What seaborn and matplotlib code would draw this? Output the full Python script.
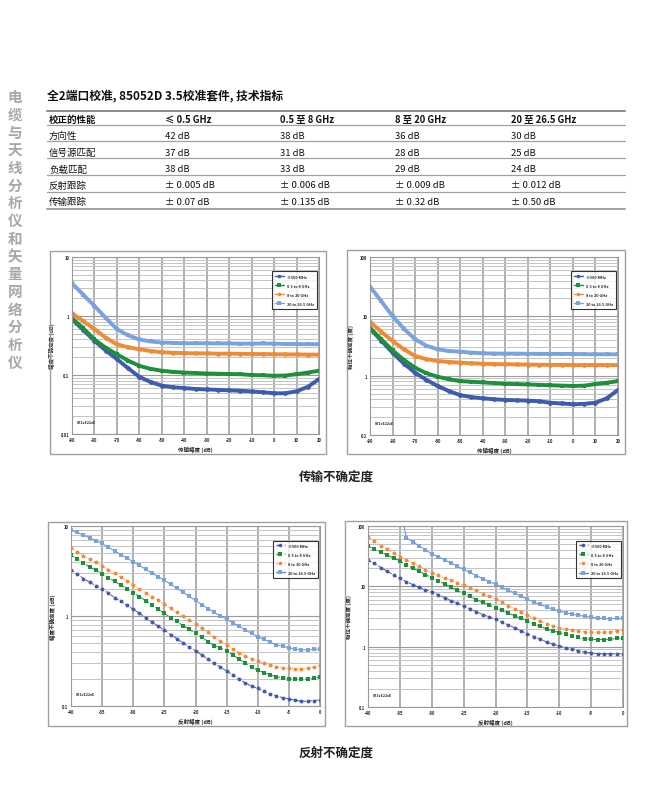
import numpy as np
import pandas as pd
import matplotlib
matplotlib.use("Agg")
import matplotlib.pyplot as plt
from matplotlib.patches import Rectangle
from matplotlib.ticker import FixedLocator, NullFormatter, LogLocator
import seaborn as sns

sns.set_theme(style="white")
plt.rcParams['font.family'] = ['Noto Sans CJK SC', 'DejaVu Sans']

# ---- table data ----
title = "全2端口校准, 85052D 3.5校准套件, 技术指标"
side_text = "电缆与天线分析仪和矢量网络分析仪"
table_header = ["校正的性能", "≤ 0.5 GHz", "0.5 至 8 GHz", "8 至 20 GHz", "20 至 26.5 GHz"]
row_names = ["方向性", "信号源匹配", "负载匹配", "反射跟踪", "传输跟踪"]
col_05 = ["42 dB", "37 dB", "38 dB", "± 0.005 dB", "± 0.07 dB"]
col_8 = ["38 dB", "31 dB", "33 dB", "± 0.006 dB", "± 0.135 dB"]
col_20 = ["36 dB", "28 dB", "29 dB", "± 0.009 dB", "± 0.32 dB"]
col_265 = ["30 dB", "25 dB", "24 dB", "± 0.012 dB", "± 0.50 dB"]

series_names = ["≤500 MHz", "0.5 to 8 GHz", "8 to 20 GHz", "20 to 26.5 GHz"]

# ---- transmission charts, x = -90..20 dB step 5 ----
trans_x = list(range(-90, 21, 5))
trans_mag_500 = [0.88, 0.58, 0.38, 0.26, 0.186, 0.13, 0.093, 0.076, 0.066, 0.062, 0.060, 0.058,
                 0.057, 0.056, 0.055, 0.054, 0.0526, 0.051, 0.049, 0.049, 0.053, 0.063, 0.085]
trans_mag_8 = [0.92, 0.62, 0.40, 0.29, 0.225, 0.175, 0.143, 0.127, 0.118, 0.113, 0.11, 0.108,
               0.106, 0.105, 0.104, 0.103, 0.100, 0.099, 0.097, 0.098, 0.103, 0.11, 0.118]
trans_mag_20 = [1.11, 0.82, 0.60, 0.43, 0.33, 0.295, 0.274, 0.255, 0.243, 0.238, 0.235, 0.233,
                0.232, 0.23, 0.23, 0.228, 0.227, 0.226, 0.225, 0.224, 0.223, 0.222, 0.222]
trans_mag_265 = [3.58, 2.3, 1.48, 0.93, 0.60, 0.47, 0.40, 0.37, 0.355, 0.35, 0.345, 0.345,
                 0.345, 0.343, 0.343, 0.34, 0.34, 0.342, 0.34, 0.335, 0.335, 0.333, 0.333]

trans_ph_500 = [6.2, 3.9, 2.44, 1.6, 1.12, 0.85, 0.67, 0.55, 0.47, 0.435, 0.415, 0.40,
                0.39, 0.385, 0.38, 0.37, 0.35, 0.34, 0.33, 0.335, 0.35, 0.415, 0.575]
trans_ph_8 = [6.4, 4.1, 2.67, 1.85, 1.36, 1.1, 0.96, 0.87, 0.81, 0.79, 0.77, 0.75,
              0.73, 0.72, 0.71, 0.70, 0.69, 0.68, 0.67, 0.68, 0.72, 0.76, 0.81]
trans_ph_20 = [8.1, 5.5, 3.84, 2.8, 2.14, 1.9, 1.77, 1.7, 1.66, 1.62, 1.59, 1.57,
               1.56, 1.55, 1.54, 1.53, 1.52, 1.52, 1.51, 1.51, 1.51, 1.51, 1.51]
trans_ph_265 = [31.6, 18, 10.1, 6.2, 4.1, 3.2, 2.78, 2.6, 2.54, 2.45, 2.38, 2.36,
                2.35, 2.35, 2.34, 2.33, 2.33, 2.33, 2.32, 2.3, 2.3, 2.29, 2.29]

# ---- reflection charts, x = -40..0 dB step 1 ----
refl_x = list(range(-40, 1))
refl_mag_500 = [3.24, 2.95, 2.6, 2.37, 2.17, 2.0, 1.8, 1.6, 1.45, 1.31, 1.19, 1.07, 0.95, 0.86,
                0.77, 0.70, 0.62, 0.56, 0.50, 0.45, 0.41, 0.37, 0.33, 0.30, 0.27, 0.245, 0.22,
                0.20, 0.18, 0.167, 0.157, 0.145, 0.136, 0.129, 0.124, 0.12, 0.116, 0.113,
                0.113, 0.115, 0.117]
refl_mag_8 = [4.72, 4.3, 3.88, 3.5, 3.22, 2.95, 2.67, 2.42, 2.2, 2.0, 1.82, 1.64, 1.48, 1.33,
              1.2, 1.07, 0.96, 0.87, 0.78, 0.71, 0.64, 0.58, 0.52, 0.47, 0.44, 0.41, 0.37,
              0.33, 0.30, 0.27, 0.249, 0.235, 0.222, 0.212, 0.205, 0.201, 0.199, 0.198,
              0.20, 0.204, 0.21]
refl_mag_20 = [5.65, 5.15, 4.7, 4.3, 3.95, 3.6, 3.27, 2.97, 2.7, 2.44, 2.21, 2.0, 1.8, 1.64,
               1.49, 1.35, 1.22, 1.1, 0.99, 0.90, 0.81, 0.73, 0.66, 0.59, 0.53, 0.48, 0.43,
               0.39, 0.36, 0.335, 0.316, 0.30, 0.285, 0.274, 0.266, 0.262, 0.259, 0.259,
               0.264, 0.272, 0.283]
refl_mag_265 = [9.0, 8.5, 7.9, 7.4, 6.9, 6.4, 5.8, 5.3, 4.8, 4.4, 4.0, 3.65, 3.3, 3.0, 2.73,
                2.49, 2.25, 2.03, 1.83, 1.65, 1.49, 1.34, 1.21, 1.1, 1.0, 0.92, 0.84, 0.77,
                0.70, 0.64, 0.59, 0.55, 0.51, 0.48, 0.46, 0.445, 0.43, 0.42, 0.42, 0.425, 0.43]

refl_ph_500 = [27, 24, 20.5, 17.8, 15.5, 13.6, 12, 10.7, 9.6, 8.8, 8.05, 7.3, 6.5, 5.8, 5.2,
               4.72, 4.25, 3.8, 3.4, 3.1, 2.84, 2.55, 2.3, 2.05, 1.83, 1.64, 1.47, 1.33, 1.2,
               1.1, 1.03, 0.96, 0.90, 0.85, 0.81, 0.79, 0.77, 0.76, 0.76, 0.765, 0.77]
refl_ph_8 = [46.7, 41, 37, 33, 29.5, 26.3, 23, 20, 17.7, 15.7, 13.9, 12.4, 11, 9.7, 8.6, 7.66,
             6.8, 6.0, 5.4, 4.9, 4.43, 4.0, 3.6, 3.25, 2.93, 2.66, 2.4, 2.17, 1.98, 1.83, 1.71,
             1.6, 1.5, 1.42, 1.36, 1.32, 1.31, 1.31, 1.33, 1.37, 1.41]
refl_ph_20 = [65.8, 56, 47, 41, 35.5, 31, 27.5, 24.5, 21.5, 19, 16.9, 15.2, 13.8, 12.5, 11.4,
              10.5, 9.5, 8.6, 7.6, 6.8, 6.1, 5.4, 4.8, 4.2, 3.7, 3.3, 2.95, 2.65, 2.4, 2.2,
              2.07, 1.97, 1.88, 1.81, 1.77, 1.75, 1.74, 1.74, 1.77, 1.82, 1.89]
refl_ph_265 = [np.nan, np.nan, np.nan, np.nan, np.nan, 250, 64, 55, 47, 40, 34.8, 31, 27.5,
               24.3, 21.5, 19.1, 17, 15.1, 13.4, 12, 10.8, 9.7, 8.6, 7.7, 6.8, 6.1, 5.5, 5.0,
               4.55, 4.2, 3.9, 3.65, 3.45, 3.3, 3.18, 3.1, 3.0, 2.93, 2.9, 2.93, 2.98]

# line colour, marker colour, marker, linestyle
styles = [("#7a3fa8", "#3d5cad", "o", (0, (4, 2))),
          ("#1e8f3c", "#1e8f3c", "s", (0, (4, 2))),
          ("#e8862e", "#ef8a35", "o", (0, (1, 2))),
          ("#5b8fd6", "#79a3dd", "s", "-")]

W, H = 653, 804
fig = plt.figure(figsize=(W / 100, H / 100), dpi=100)


def fx(px):
    return px / W


def fy(py):
    return 1 - py / H


def make_chart(box, plot, x, ys, xticks, ylim, yticks, ylabel, xlabel, dense):
    bx0, by0, bx1, by1 = box
    fig.patches.append(Rectangle((fx(bx0), fy(by1)), fx(bx1 - bx0), (by1 - by0) / H,
                                 transform=fig.transFigure, fill=False,
                                 edgecolor="#a0a0a0", linewidth=1.0))
    px0, py0, px1, py1 = plot
    ax = fig.add_axes([fx(px0), fy(py1), fx(px1 - px0), (py1 - py0) / H])
    for (lc, mc, mk, ls), y, name in zip(styles, ys, series_names):
        df = pd.DataFrame({"x": x, "y": y}).dropna()
        if dense:
            sns.lineplot(data=df, x="x", y="y", ax=ax, color=mc, linewidth=2.8,
                         marker=mk, markersize=3.4, markeredgewidth=0, label=name,
                         sort=False)
        else:
            sns.lineplot(data=df, x="x", y="y", ax=ax, color=lc, linewidth=0.7,
                         linestyle=ls, marker=mk, markersize=2.8, markerfacecolor=mc,
                         markeredgewidth=0, label=name, sort=False)
    ax.set_yscale("log")
    ax.set_xlim(xticks[0], xticks[-1])
    ax.set_ylim(*ylim)
    ax.set_xticks(xticks)
    ax.set_xticklabels([str(t) for t in xticks], fontsize=3, fontweight="bold")
    ax.yaxis.set_major_locator(FixedLocator(yticks))
    ax.set_yticklabels([("%g" % t) for t in yticks], fontsize=3, fontweight="bold")
    ax.yaxis.set_minor_locator(LogLocator(base=10, subs=np.arange(2, 10)))
    ax.yaxis.set_minor_formatter(NullFormatter())
    ax.tick_params(axis="both", which="both", length=0, pad=2)
    ax.grid(True, axis="x", which="major", color="#9a9a9a", linewidth=1.1)
    ax.grid(True, axis="y", which="major", color="#9a9a9a", linewidth=0.8)
    ax.grid(True, axis="y", which="minor", color="#c4c4c4", linewidth=0.7)
    ax.set_axisbelow(True)
    for s in ax.spines.values():
        s.set_color("#9a9a9a")
        s.set_linewidth(0.8)
    ax.set_xlabel(xlabel, fontsize=4, fontweight="bold", labelpad=3)
    ax.set_ylabel(ylabel, fontsize=4, fontweight="bold", labelpad=4)
    ax.text(0.02, 0.06, "871xE22xE", transform=ax.transAxes, fontsize=2.6,
            fontweight="bold", color="#222222")
    leg = ax.legend(loc="upper right", bbox_to_anchor=(1.0, 0.93),
                    frameon=True, fancybox=False, handlelength=2.2, borderpad=0.8,
                    labelspacing=1.3, prop={"weight": "bold", "size": 2.8})
    leg.get_frame().set_edgecolor("black")
    leg.get_frame().set_linewidth(0.8)
    for h in leg.legend_handles:
        h.set_linewidth(1.0)
        h.set_markersize(2.6)
    return ax


make_chart((50, 252, 326, 455), (72, 258, 319, 435), trans_x,
           [trans_mag_500, trans_mag_8, trans_mag_20, trans_mag_265],
           list(range(-90, 21, 10)), (0.01, 10), [0.01, 0.1, 1, 10],
           "幅度不确定度 (dB)", "传输幅度 (dB)", True)
make_chart((347, 251, 625, 455), (370, 258, 618, 436), trans_x,
           [trans_ph_500, trans_ph_8, trans_ph_20, trans_ph_265],
           list(range(-90, 21, 10)), (0.1, 100), [0.1, 1, 10, 100],
           "相位不确定度 (度)", "传输幅度 (dB)", True)
make_chart((48, 523, 325, 727), (71, 527, 320, 707), refl_x,
           [refl_mag_500, refl_mag_8, refl_mag_20, refl_mag_265],
           list(range(-40, 1, 5)), (0.1, 10), [0.1, 1, 10],
           "幅度不确定度 (dB)", "反射幅度 (dB)", False)
make_chart((345, 522, 627, 727), (368, 527, 623, 708), refl_x,
           [refl_ph_500, refl_ph_8, refl_ph_20, refl_ph_265],
           list(range(-40, 1, 5)), (0.1, 100), [0.1, 1, 10, 100],
           "相位不确定度 (度)", "反射幅度 (dB)", False)

# captions
fig.text(fx(336), fy(478), "传输不确定度", ha="center", va="center", fontsize=9,
         fontweight="bold", color="#222222")
fig.text(fx(336), fy(753), "反射不确定度", ha="center", va="center", fontsize=9,
         fontweight="bold", color="#222222")

# side text (vertical, upright characters)
fig.text(fx(15), fy(230), "\n".join(side_text), ha="center", va="center", fontsize=10.5,
         fontweight="bold", color="#a8a8a8", linespacing=1.13)

# title and table
fig.text(fx(47), fy(97), title, ha="left", va="center", fontsize=8.5, fontweight="bold",
         color="#111111")
col_x = [49, 165, 280, 395, 511]
fig.add_artist(plt.Line2D([fx(47), fx(625)], [fy(112), fy(112)], color="#8a8a8a", linewidth=1.4))
for cx, h in zip(col_x, table_header):
    fig.text(fx(cx), fy(120), h, ha="left", va="center", fontsize=6.8, fontweight="bold",
             color="#111111")
line_y = [126, 142, 159, 176, 193, 210]
row_y = [136.5, 153, 170, 186, 202.5]
for ly in line_y:
    lw = 1.4 if ly == line_y[-1] else 0.9
    fig.add_artist(plt.Line2D([fx(47), fx(625)], [fy(ly), fy(ly)], color="#a0a0a0", linewidth=lw))
for i, ry in enumerate(row_y):
    cells = [row_names[i], col_05[i], col_8[i], col_20[i], col_265[i]]
    for cx, c in zip(col_x, cells):
        fig.text(fx(cx), fy(ry), c, ha="left", va="center", fontsize=6.8, color="#111111")

fig.savefig("out.png", dpi=100)
